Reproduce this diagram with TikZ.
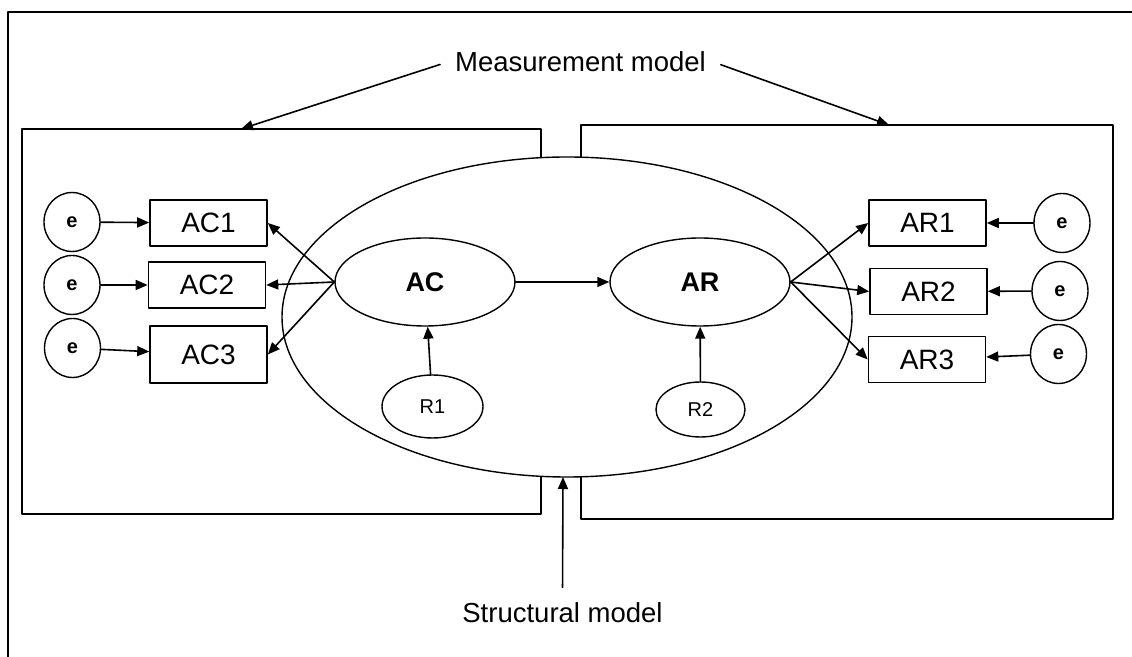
\documentclass[tikz,border=0pt]{standalone}
\usepackage{fontspec}
\setmainfont{Liberation Sans}
\usetikzlibrary{arrows.meta,shapes.geometric}
\begin{document}
\begin{tikzpicture}[line cap=round,line join=round,>={Triangle[length=6pt,width=5pt]},x=.5pt,y=-.5pt,line width=.8pt,
		obs/.style={draw,minimum width=58.5pt,minimum height=23pt,inner sep=0pt,font=\fontsize{14}{16}\selectfont},
		err/.style={draw,ellipse,line width=.7pt,minimum width=28pt,minimum height=29.5pt,inner sep=0pt,font=\fontsize{10}{12}\selectfont\bfseries},
		lat/.style={draw,ellipse,line width=.7pt,minimum width=90pt,minimum height=44pt,inner sep=0pt,font=\fontsize{13.5}{16}\selectfont\bfseries},
		res/.style={draw,ellipse,line width=.7pt,inner sep=0pt,font=\fontsize{10}{12}\selectfont},
		lbl/.style={font=\fontsize{13.75}{16}\selectfont}]
		\useasboundingbox (0,0) rectangle (1132,657);
		\draw (8,657)--(8,12)--(1132,12);
		\draw (22,129) rectangle (541,514);
		\draw (581,125) rectangle (1113,519);
		\draw[line width=.7pt,fill=white] (567,317) ellipse [x radius=142.5pt,y radius=80pt];
		\node[err] (e1) at (72,222) {e};
		\node[err] (e2) at (72,285) {e};
		\node[err] (e3) at (72.5,348) {e};
		\node[obs] (ac1) at (208.5,223) {AC1};
		\node[obs] (ac2) at (207,285) {AC2};
		\node[obs,minimum height=28.5pt] (ac3) at (208.5,354.5) {AC3};
		\node[lat] (ac) at (425,282) {AC};
		\node[lat] (ar) at (700,282) {AR};
		\node[obs] (ar1) at (927.5,223) {AR1};
		\node[obs] (ar2) at (928.5,291.5) {AR2};
		\node[obs] (ar3) at (927,359.5) {AR3};
		\node[err] (f1) at (1062,223) {e};
		\node[err] (f2) at (1060,291) {e};
		\node[err] (f3) at (1058.5,354) {e};
		\node[res,minimum width=50.5pt,minimum height=31.5pt] (r1) at (432.5,406.5) {R1};
		\node[res,minimum width=44.5pt,minimum height=27.5pt] (r2) at (700.5,409.5) {R2};
		\node[lbl] (mm) at (580.5,62) {Measurement model};
		\node[lbl] (sm) at (562.5,613) {Structural model};
		\coordinate (lt) at (241,129);
		\coordinate (rt) at (889,125);
		\coordinate (eb) at (563,477);
		\foreach \i in {1,2,3}{
			\draw[->] (e\i) -- (ac\i);
			\draw[->] (ac.west) -- (ac\i.east);
			\draw[->] (ar.east) -- (ar\i.west);
			\draw[->] (f\i) -- (ar\i);
		}
		\draw[->] (ac) -- (ar);
		\draw[->] (r1) -- (ac);
		\draw[->] (r2) -- (ar);
		\draw[->,shorten <=4pt] (mm.west) -- (lt);
		\draw[->,shorten <=4pt] (mm.east) -- (rt);
		\draw[->,shorten <=4pt] (sm.north) -- (eb);
	\end{tikzpicture}
\end{document}
